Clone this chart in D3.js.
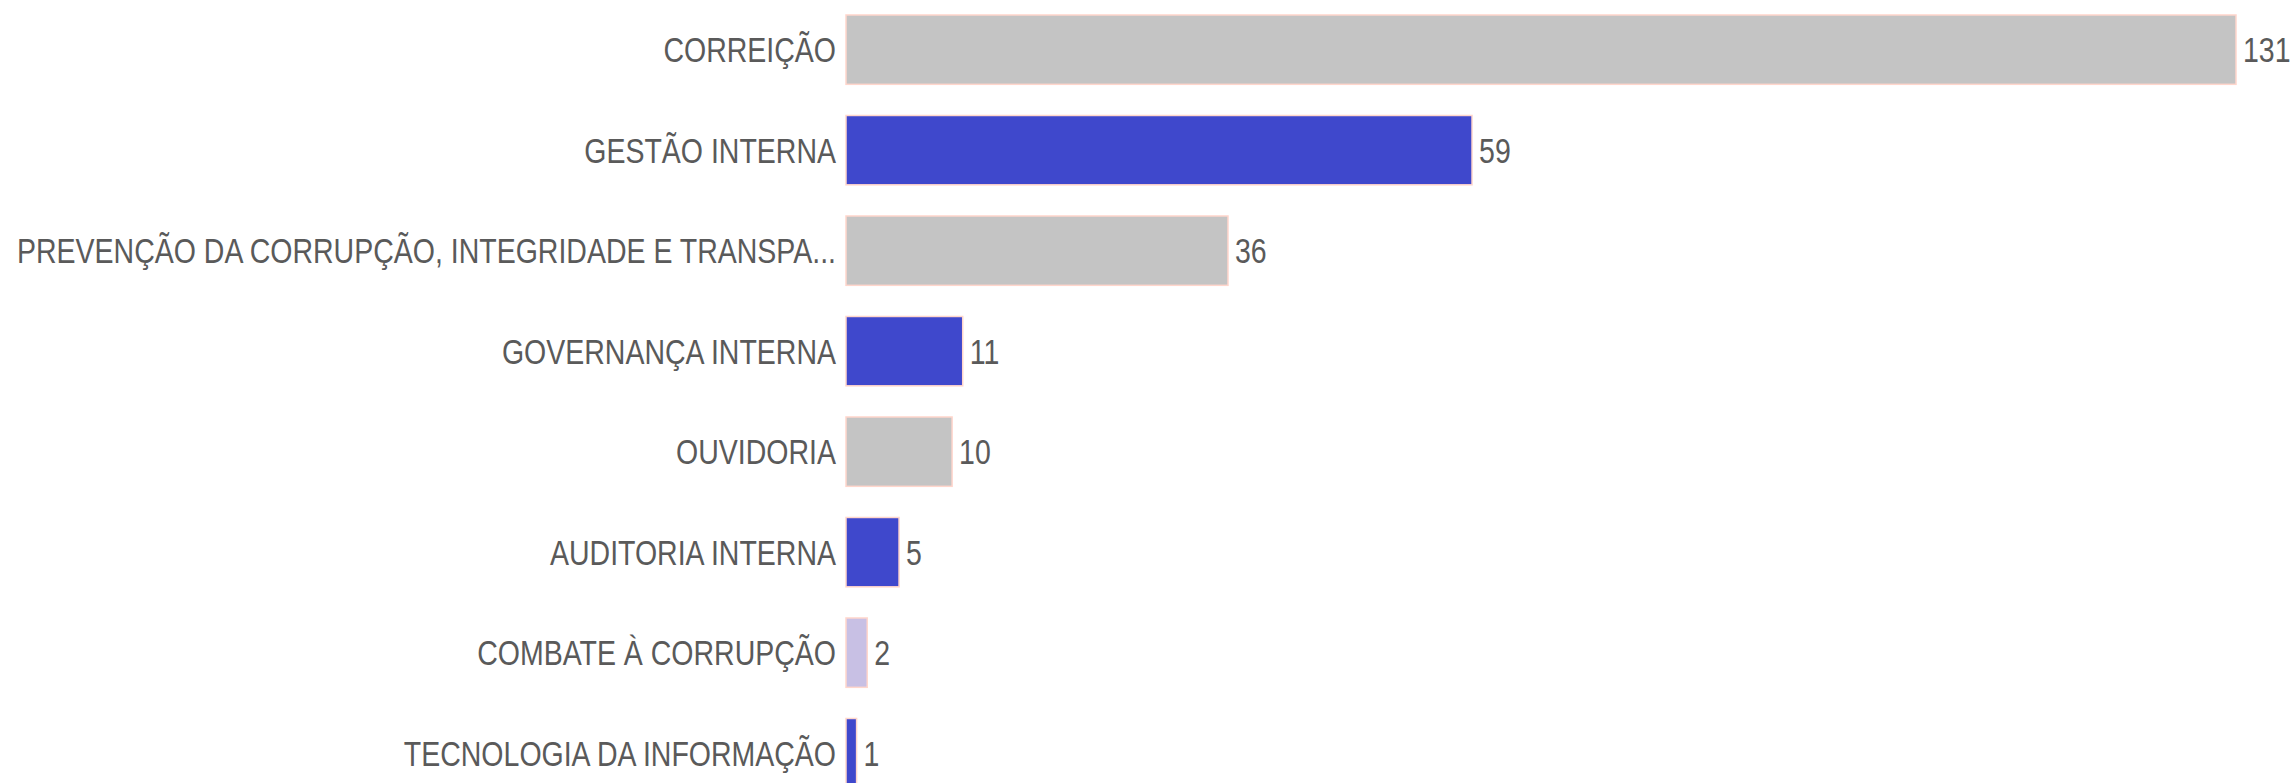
<!DOCTYPE html>
<html>
<head>
<meta charset="utf-8">
<script src="https://cdn.jsdelivr.net/npm/d3@7"></script>
<style>
  html, body { margin: 0; padding: 0; background: #ffffff; }
  svg { display: block; }
</style>
</head>
<body>
<svg id="chart" width="2290" height="783"></svg>
<script>
const categories = [
  "CORREIÇÃO",
  "GESTÃO INTERNA",
  "PREVENÇÃO DA CORRUPÇÃO, INTEGRIDADE E TRANSPA...",
  "GOVERNANÇA INTERNA",
  "OUVIDORIA",
  "AUDITORIA INTERNA",
  "COMBATE À CORRUPÇÃO",
  "TECNOLOGIA DA INFORMAÇÃO"
];
const values = [131, 59, 36, 11, 10, 5, 2, 1];
const barColors = ["#c4c4c4", "#3f48cc", "#c4c4c4", "#3f48cc", "#c4c4c4", "#3f48cc", "#c8c0e4", "#3f48cc"];

const svg = d3.select("#chart");
const W = 2290, H = 783;

const x = d3.scaleLinear().domain([0, 131]).range([846, 2236]);
const y = d3.scaleBand().domain(categories).range([-0.6, 803.4]).paddingInner(0.31).paddingOuter(0.155);

const data = categories.map((c, i) => ({ c, v: values[i], col: barColors[i] }));

const fs = 28.5, sy = 1.25;
const baseOff = 0.716 * fs * sy / 2;

svg.append("g").selectAll("rect").data(data).join("rect")
  .attr("x", x(0))
  .attr("y", d => y(d.c))
  .attr("width", d => x(d.v) - x(0))
  .attr("height", y.bandwidth())
  .attr("fill", d => d.col)
  .attr("stroke", "#ffd6cc")
  .attr("stroke-width", 1.5);

svg.append("g").selectAll("text").data(data).join("text")
  .attr("transform", d => `translate(836,${y(d.c) + y.bandwidth() / 2 + baseOff}) scale(1,${sy})`)
  .attr("text-anchor", "end")
  .attr("font-family", "Liberation Sans, Arial, sans-serif")
  .attr("font-size", fs)
  .attr("fill", "#5a5a5a")
  .text(d => d.c);

svg.append("g").selectAll("text").data(data).join("text")
  .attr("transform", d => `translate(${x(d.v) + 7},${y(d.c) + y.bandwidth() / 2 + baseOff}) scale(1,${sy})`)
  .attr("text-anchor", "start")
  .attr("font-family", "Liberation Sans, Arial, sans-serif")
  .attr("font-size", fs)
  .attr("fill", "#5a5a5a")
  .text(d => d.v);
</script>
</body>
</html>
